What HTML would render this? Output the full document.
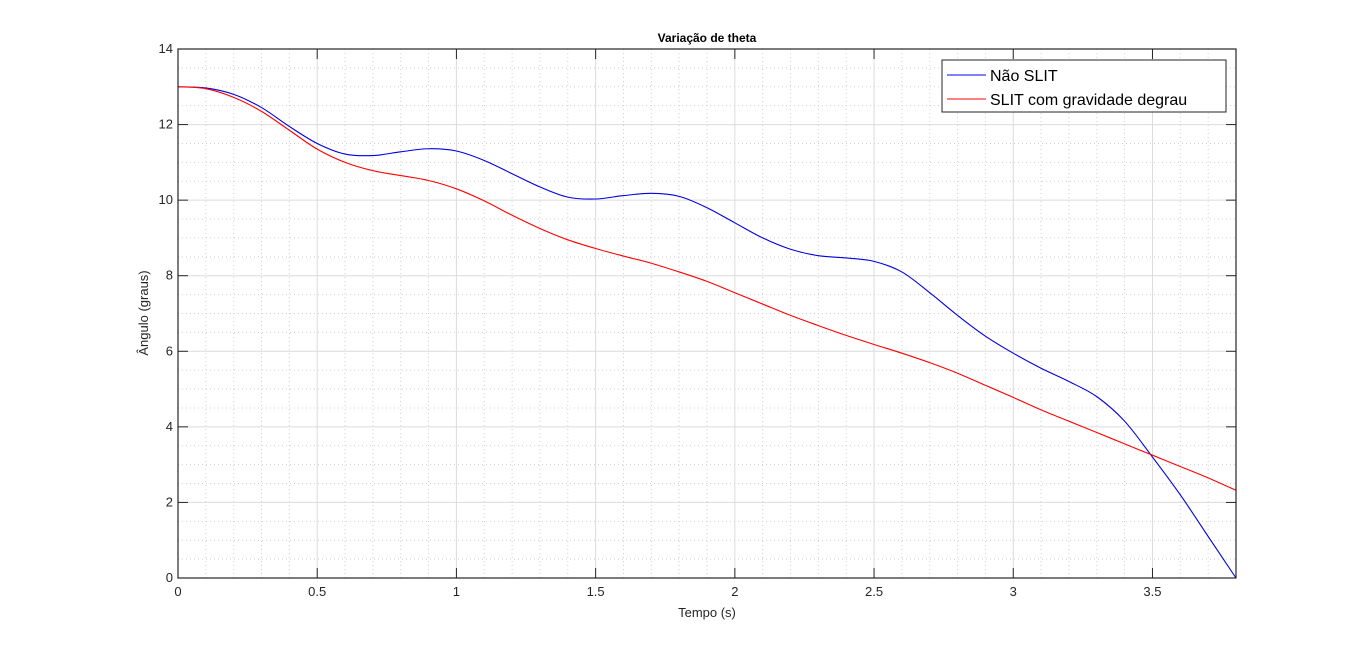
<!DOCTYPE html>
<html><head><meta charset="utf-8"><style>
body{margin:0;background:#fff;}
svg{display:block;font-family:"Liberation Sans",sans-serif;}
</style></head><body>
<svg id="chart" width="1366" height="651">
<rect width="1366" height="651" fill="#fff"/>
<g id="grid"></g><g id="series"></g><g id="axes"></g>
<text x="707" y="42" text-anchor="middle" font-size="12" font-weight="bold" fill="#000">Variação de theta</text>
<text x="707" y="617" text-anchor="middle" font-size="13" fill="#262626">Tempo (s)</text>
<text transform="translate(148,313) rotate(-90)" text-anchor="middle" font-size="13" fill="#262626">Ângulo (graus)</text>
<g>
<rect x="942" y="60" width="284" height="52" fill="#fff" stroke="#262626" stroke-width="1"/>
<line x1="947" y1="75" x2="986" y2="75" stroke="#0000ff" stroke-width="1"/>
<text x="990" y="81" font-size="16" fill="#000">Não SLIT</text>
<line x1="947" y1="99" x2="986" y2="99" stroke="#ff0000" stroke-width="1"/>
<text x="990" y="105" font-size="16" fill="#000">SLIT com gravidade degrau</text>
</g>
</svg>
<script>
const times=[0,0.1,0.2,0.3,0.4,0.5,0.6,0.7,0.8,0.9,1.0,1.1,1.2,1.3,1.4,1.5,1.6,1.7,1.8,1.9,2.0,2.1,2.2,2.3,2.4,2.5,2.6,2.7,2.8,2.9,3.0,3.1,3.2,3.3,3.4,3.5,3.6,3.7,3.8];
const naoSlit=[13,12.97,12.8,12.45,11.95,11.5,11.22,11.18,11.28,11.36,11.3,11.05,10.7,10.35,10.08,10.03,10.12,10.18,10.1,9.8,9.4,9.0,8.7,8.53,8.47,8.38,8.1,7.55,6.95,6.4,5.95,5.55,5.2,4.8,4.15,3.2,2.2,1.1,0];
const slit=[13,12.95,12.72,12.35,11.85,11.35,11.0,10.78,10.65,10.52,10.3,9.98,9.6,9.25,8.95,8.72,8.52,8.33,8.1,7.85,7.55,7.25,6.95,6.68,6.42,6.18,5.95,5.7,5.42,5.1,4.78,4.45,4.15,3.85,3.55,3.25,2.95,2.65,2.32];
const xTicks=[0,0.5,1,1.5,2,2.5,3,3.5];
const yTicks=[0,2,4,6,8,10,12,14];
const L=178,R=1236,T=49,B=578,XMAX=3.8,YMAX=14;
const sx=v=>L+v/XMAX*(R-L), sy=v=>B-v/YMAX*(B-T);
const NS='http://www.w3.org/2000/svg';
function mk(tag,at,parent){const e=document.createElementNS(NS,tag);for(const k in at)e.setAttribute(k,at[k]);parent.appendChild(e);return e;}
const grid=document.getElementById('grid'),axes=document.getElementById('axes'),ser=document.getElementById('series');
for(let i=1;i<38;i++){if(i%5===0)continue;const x=sx(i/10);const l=mk('line',{x1:x,x2:x,y1:T,y2:B,stroke:'#d0d0d0','stroke-dasharray':'1,3','stroke-width':1},grid);

}
for(let i=1;i<28;i++){if(i%4===0)continue;const y=sy(i/2);const l=mk('line',{x1:L,x2:R,y1:y,y2:y,stroke:'#d0d0d0','stroke-dasharray':'1,3','stroke-width':1},grid);

}
xTicks.forEach(v=>{const x=sx(v);const g=mk('line',{x1:x,x2:x,y1:T,y2:B,stroke:'#dcdcdc','stroke-width':1},grid);


mk('line',{x1:x,x2:x,y1:B,y2:B-10,stroke:'#262626'},axes);mk('line',{x1:x,x2:x,y1:T,y2:T+10,stroke:'#262626'},axes);
const t=mk('text',{x:x,y:B+18,'text-anchor':'middle','font-size':13,fill:'#262626'},axes);t.textContent=String(v);

});
yTicks.forEach(v=>{const y=sy(v);const g=mk('line',{x1:L,x2:R,y1:y,y2:y,stroke:'#dcdcdc','stroke-width':1},grid);


mk('line',{x1:L,x2:L+10,y1:y,y2:y,stroke:'#262626'},axes);mk('line',{x1:R,x2:R-10,y1:y,y2:y,stroke:'#262626'},axes);
const t=mk('text',{x:L-5,y:y+4,'text-anchor':'end','font-size':13,fill:'#262626'},axes);t.textContent=String(v);

});
const box=mk('rect',{x:L,y:T,width:R-L,height:B-T,fill:'none',stroke:'#262626','stroke-width':1.2},axes);


function path(vals){const p=times.map((t,i)=>[sx(t),sy(vals[i])]);let d='M'+p[0][0]+','+p[0][1];
for(let i=0;i<p.length-1;i++){const p0=p[Math.max(0,i-1)],p1=p[i],p2=p[i+1],p3=p[Math.min(p.length-1,i+2)];
d+=' C'+(p1[0]+(p2[0]-p0[0])/6)+','+(p1[1]+(p2[1]-p0[1])/6)+' '+(p2[0]-(p3[0]-p1[0])/6)+','+(p2[1]-(p3[1]-p1[1])/6)+' '+p2[0]+','+p2[1];}return d;}
const a=mk('path',{d:path(naoSlit),fill:'none',stroke:'#0000e0','stroke-width':1.1},ser);


const b=mk('path',{d:path(slit),fill:'none',stroke:'#ff0000','stroke-width':1.1},ser);


</script>
</body></html>
